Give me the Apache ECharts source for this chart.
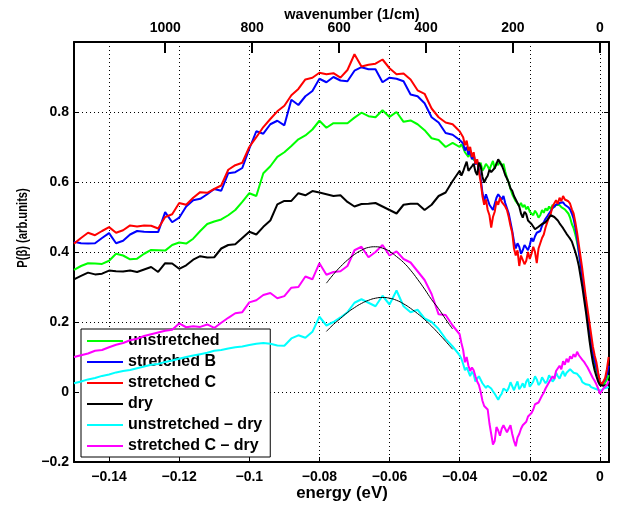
<!DOCTYPE html>
<html><head><meta charset="utf-8">
<script src="https://cdn.jsdelivr.net/npm/echarts@6/dist/echarts.min.js"></script>
<style>html,body{margin:0;padding:0;background:#fff}#c{width:625px;height:508px}</style>
</head><body><div id="c"></div>
<script>
// energy grid (eV): 0.002 steps on the left, 0.0005 steps in the dense region near 0
const energy = [-0.150,-0.148,-0.146,-0.144,-0.142,-0.140,-0.138,-0.136,-0.134,-0.132,-0.130,-0.128,-0.126,-0.124,-0.122,-0.120,-0.118,-0.116,-0.114,-0.112,-0.110,-0.108,-0.106,-0.104,-0.102,-0.100,-0.098,-0.096,-0.094,-0.092,-0.090,-0.088,-0.086,-0.084,-0.082,-0.080,-0.078,-0.076,-0.074,-0.072,-0.070,-0.068,-0.066,-0.064,-0.062,-0.060,-0.058,-0.056,-0.054,-0.052,-0.050,-0.048,-0.046,-0.044,-0.042,-0.040,
-0.0395,-0.039,-0.0385,-0.038,-0.0375,-0.037,-0.0365,-0.036,-0.0355,-0.035,-0.0345,-0.034,-0.0335,-0.033,-0.0325,-0.032,-0.0315,-0.031,-0.0305,-0.030,
-0.0295,-0.029,-0.0285,-0.028,-0.0275,-0.027,-0.0265,-0.026,-0.0255,-0.025,-0.0245,-0.024,-0.0235,-0.023,-0.0225,-0.022,-0.0215,-0.021,-0.0205,-0.020,
-0.0195,-0.019,-0.0185,-0.018,-0.0175,-0.017,-0.0165,-0.016,-0.0155,-0.015,-0.0145,-0.014,-0.0135,-0.013,-0.0125,-0.012,-0.0115,-0.011,-0.0105,-0.010,
-0.0095,-0.009,-0.0085,-0.008,-0.0075,-0.007,-0.0065,-0.006,-0.0055,-0.005,-0.0045,-0.004,-0.0035,-0.003,-0.0025,-0.002,-0.0015,-0.001,-0.0005,0.000,
0.0005,0.001,0.0015,0.002,0.0025];

const unstretched = [0.349,0.36,0.368,0.367,0.366,0.375,0.395,0.39,0.379,0.381,0.395,0.406,0.405,0.404,0.42,0.427,0.424,0.438,0.46,0.48,0.487,0.493,0.505,0.52,0.543,0.568,0.56,0.625,0.645,0.672,0.685,0.703,0.722,0.733,0.75,0.775,0.755,0.768,0.768,0.768,0.784,0.798,0.788,0.785,0.805,0.786,0.80,0.772,0.776,0.765,0.748,0.725,0.72,0.70,0.712,0.70,
0.708,0.698,0.685,0.69,0.672,0.684,0.668,0.672,0.66,0.665,0.645,0.655,0.632,0.64,0.652,0.645,0.635,0.648,0.66,0.638,
0.655,0.648,0.66,0.645,0.652,0.63,0.612,0.598,0.58,0.565,0.56,0.545,0.548,0.532,0.54,0.528,0.535,0.522,0.53,0.515,
0.52,0.505,0.518,0.51,0.498,0.505,0.52,0.512,0.525,0.518,0.53,0.522,0.535,0.528,0.535,0.53,0.534,0.528,0.527,0.522,
0.518,0.51,0.498,0.48,0.468,0.45,0.428,0.40,0.365,0.325,0.285,0.245,0.205,0.17,0.135,0.105,0.078,0.055,0.038,0.025,
0.02,0.02,0.027,0.035,0.048];

const stretchedB = [0.429,0.425,0.424,0.425,0.44,0.454,0.425,0.432,0.45,0.46,0.458,0.457,0.457,0.514,0.485,0.498,0.53,0.548,0.552,0.565,0.58,0.575,0.625,0.628,0.64,0.695,0.745,0.738,0.765,0.775,0.762,0.835,0.82,0.845,0.86,0.895,0.885,0.90,0.89,0.888,0.918,0.928,0.922,0.922,0.885,0.898,0.895,0.888,0.85,0.845,0.825,0.785,0.77,0.74,0.735,0.72,
0.725,0.71,0.69,0.70,0.678,0.69,0.665,0.68,0.65,0.66,0.635,0.61,0.57,0.545,0.565,0.55,0.535,0.54,0.52,0.525,
0.555,0.565,0.57,0.55,0.56,0.54,0.525,0.51,0.485,0.46,0.43,0.41,0.425,0.415,0.395,0.405,0.42,0.415,0.405,0.42,
0.44,0.43,0.445,0.455,0.45,0.46,0.475,0.478,0.495,0.502,0.51,0.515,0.525,0.522,0.535,0.53,0.54,0.535,0.542,0.535,
0.535,0.528,0.522,0.51,0.495,0.47,0.44,0.40,0.365,0.33,0.29,0.25,0.215,0.18,0.145,0.11,0.09,0.07,0.05,0.03,
0.022,0.025,0.035,0.05,0.075];

const stretchedC = [0.424,0.44,0.455,0.448,0.46,0.471,0.455,0.462,0.476,0.473,0.476,0.475,0.467,0.50,0.508,0.54,0.535,0.555,0.571,0.569,0.58,0.59,0.635,0.648,0.655,0.70,0.728,0.757,0.78,0.802,0.818,0.848,0.866,0.893,0.898,0.912,0.908,0.911,0.898,0.92,0.965,0.93,0.935,0.938,0.95,0.925,0.908,0.91,0.893,0.862,0.852,0.81,0.785,0.77,0.765,0.745,
0.74,0.728,0.705,0.718,0.69,0.70,0.672,0.685,0.652,0.665,0.63,0.60,0.56,0.535,0.55,0.52,0.505,0.47,0.50,0.515,
0.545,0.535,0.555,0.543,0.548,0.53,0.52,0.50,0.475,0.455,0.41,0.39,0.405,0.36,0.39,0.395,0.365,0.375,0.40,0.38,
0.395,0.415,0.40,0.368,0.41,0.425,0.44,0.45,0.47,0.485,0.50,0.51,0.53,0.528,0.548,0.538,0.555,0.545,0.56,0.55,
0.55,0.545,0.538,0.522,0.51,0.485,0.455,0.42,0.385,0.35,0.31,0.27,0.235,0.20,0.165,0.13,0.105,0.085,0.055,0.03,
0.02,0.02,0.04,0.065,0.10];

const dry = [0.322,0.332,0.341,0.336,0.338,0.347,0.345,0.344,0.347,0.343,0.35,0.357,0.343,0.368,0.367,0.352,0.362,0.378,0.388,0.384,0.385,0.41,0.42,0.422,0.44,0.458,0.45,0.472,0.49,0.536,0.546,0.546,0.568,0.562,0.574,0.57,0.565,0.56,0.562,0.543,0.53,0.537,0.538,0.54,0.53,0.52,0.51,0.535,0.538,0.538,0.52,0.535,0.56,0.57,0.603,0.632,
0.618,0.63,0.645,0.658,0.632,0.628,0.645,0.652,0.63,0.62,0.655,0.645,0.615,0.598,0.61,0.618,0.635,0.628,0.632,0.64,
0.652,0.665,0.655,0.648,0.635,0.62,0.61,0.598,0.582,0.575,0.56,0.55,0.54,0.53,0.51,0.498,0.515,0.508,0.49,0.49,
0.48,0.475,0.465,0.462,0.472,0.468,0.48,0.478,0.485,0.49,0.498,0.505,0.51,0.50,0.495,0.49,0.482,0.475,0.468,0.46,
0.452,0.445,0.438,0.43,0.415,0.40,0.382,0.36,0.33,0.30,0.265,0.23,0.19,0.15,0.115,0.085,0.062,0.045,0.03,0.02,
0.017,0.018,0.019,0.02,0.024];

const unstretchedMinusDry = [0.025,0.03,0.036,0.04,0.046,0.05,0.056,0.06,0.063,0.068,0.073,0.078,0.08,0.086,0.09,0.095,0.1,0.104,0.108,0.112,0.118,0.12,0.124,0.128,0.13,0.134,0.138,0.14,0.138,0.133,0.132,0.153,0.162,0.155,0.172,0.215,0.19,0.2,0.213,0.228,0.255,0.265,0.255,0.245,0.275,0.25,0.29,0.245,0.228,0.235,0.21,0.2,0.18,0.152,0.13,0.105,
0.095,0.08,0.062,0.07,0.058,0.045,0.058,0.05,0.03,0.038,0.045,0.04,0.025,0.028,0.012,0.018,0.022,0.01,0.002,-0.005,
-0.01,-0.022,-0.012,-0.005,0.01,0.008,0.002,0.012,0.028,0.025,0.005,0.018,0.03,0.008,0.015,0.025,0.012,0.03,0.038,0.015,
0.022,0.03,0.045,0.036,0.02,0.026,0.042,0.038,0.025,0.032,0.048,0.04,0.03,0.036,0.055,0.045,0.038,0.05,0.06,0.045,
0.055,0.052,0.065,0.062,0.055,0.06,0.052,0.05,0.04,0.028,0.03,0.022,0.018,0.02,0.014,0.016,0.01,0.012,0.006,0.008,
0.004,0.01,0.008,0.012,0.015];

const stretchedCMinusDry = [0.10,0.105,0.11,0.118,0.12,0.128,0.135,0.14,0.148,0.152,0.16,0.165,0.17,0.175,0.178,0.196,0.185,0.188,0.186,0.193,0.183,0.198,0.212,0.225,0.228,0.256,0.262,0.277,0.283,0.268,0.274,0.298,0.3,0.33,0.322,0.368,0.335,0.343,0.345,0.36,0.405,0.415,0.385,0.40,0.42,0.39,0.402,0.38,0.37,0.345,0.32,0.28,0.222,0.22,0.19,0.165,
0.14,0.12,0.085,0.10,0.075,0.06,0.07,0.062,0.045,0.03,0.02,0.0,-0.025,-0.04,-0.035,-0.05,-0.09,-0.12,-0.15,-0.14,
-0.10,-0.11,-0.125,-0.105,-0.095,-0.10,-0.115,-0.11,-0.095,-0.12,-0.14,-0.155,-0.13,-0.12,-0.105,-0.095,-0.10,-0.085,-0.07,-0.065,
-0.06,-0.05,-0.035,-0.04,-0.03,-0.02,-0.01,-0.002,0.01,0.015,0.028,0.025,0.045,0.038,0.06,0.055,0.075,0.065,0.088,0.078,
0.095,0.085,0.102,0.095,0.108,0.1,0.115,0.105,0.102,0.092,0.086,0.078,0.07,0.06,0.05,0.04,0.032,0.022,0.01,-0.005,
0.0,0.01,0.015,0.02,0.032];

const fitEnergy = [-0.078,-0.076,-0.074,-0.072,-0.070,-0.068,-0.066,-0.064,-0.062,-0.060,-0.058,-0.056,-0.054,-0.052,-0.050,-0.048,-0.046,-0.044,-0.042];
const fitStretchedC = [0.311,0.336,0.358,0.377,0.393,0.405,0.413,0.415,0.411,0.402,0.387,0.37,0.348,0.322,0.294,0.264,0.238,0.208,0.18];
const fitUnstretched = [0.173,0.193,0.21,0.227,0.241,0.253,0.262,0.268,0.27,0.268,0.262,0.252,0.239,0.224,0.207,0.188,0.167,0.145,0.122];

const energyTicks = [-0.14,-0.12,-0.10,-0.08,-0.06,-0.04,-0.02,0];
const valueTicks = [-0.2,0,0.2,0.4,0.6,0.8];
const wavenumberTicks = [1000,800,600,400,200,0];
const CM_PER_EV = 8065.54;

const names = ['unstretched','stretched B','stretched C','dry','unstretched \u2013 dry','stretched C \u2013 dry'];
const colors = ['#00ff00','#0000ff','#ff0000','#000000','#00ffff','#ff00ff'];
const seriesValues = [unstretched, stretchedB, stretchedC, dry, unstretchedMinusDry, stretchedCMinusDry];

const FONT = '"Liberation Sans", Arial, Helvetica, sans-serif';
function fmtNum(v){
  const r = Math.round(v*1000)/1000;
  if (Math.abs(r) < 1e-9) return '0';
  return (r < 0 ? '\u2212' : '') + String(Math.abs(r));
}

const series = seriesValues.map((vals, i) => ({
  name: names[i], type: 'line', xAxisIndex: 0, yAxisIndex: 0,
  data: energy.map((e, k) => [e, vals[k]]),
  symbol: 'none', showSymbol: false, animation: false,
  lineStyle: { color: colors[i], width: 2 }, itemStyle: { color: colors[i] },
  z: 2 + i
}));
[fitStretchedC, fitUnstretched].forEach((vals) => {
  series.push({
    type: 'line', xAxisIndex: 0, yAxisIndex: 0, symbol: 'none', animation: false, smooth: true,
    data: fitEnergy.map((e, k) => [e, vals[k]]),
    lineStyle: { color: '#000', width: 1 }, z: 10, silent: true
  });
});

const xMin = -0.15, xMax = 0.0026;
const chart = echarts.init(document.getElementById('c'), null, { renderer: 'canvas' });
chart.setOption({
  backgroundColor: '#fff',
  animation: false,
  textStyle: { fontFamily: FONT },
  grid: { left: 74, top: 42, width: 535, height: 420, containLabel: false },
  legend: {
    data: names, orient: 'vertical', left: 81, top: 329,
    icon: 'path://M0,0L36,0L36,2L0,2Z',
    itemWidth: 36, itemHeight: 14, itemGap: 5,
    padding: [4, 8, 3, 6],
    backgroundColor: '#fff', borderColor: '#000', borderWidth: 1,
    textStyle: { fontFamily: FONT, fontWeight: 'bold', fontSize: 16, color: '#000' },
    selectedMode: false
  },
  xAxis: [
    { type: 'value', position: 'bottom', min: xMin, max: xMax,
      axisLine: { show: true, onZero: false, lineStyle: { color: '#000', width: 2 } },
      axisTick: { show: true, inside: true, length: 5, customValues: energyTicks, lineStyle: { color: '#000', width: 1 } },
      axisLabel: { customValues: energyTicks, formatter: fmtNum, margin: 8, color: '#000', fontFamily: FONT, fontWeight: 'bold', fontSize: 14 },
      splitLine: { show: true, lineStyle: { color: '#000', width: 1, type: [1, 3] } }
    },
    { type: 'value', position: 'top', min: xMin, max: xMax,
      axisLine: { show: true, onZero: false, lineStyle: { color: '#000', width: 2 } },
      axisTick: { show: true, inside: true, length: 11, customValues: wavenumberTicks.map(w => -w / CM_PER_EV), lineStyle: { color: '#000', width: 2 } },
      axisLabel: { customValues: wavenumberTicks.map(w => -w / CM_PER_EV), formatter: v => String(Math.abs(Math.round(-v * CM_PER_EV))), margin: 7, color: '#000', fontFamily: FONT, fontWeight: 'bold', fontSize: 14 },
      splitLine: { show: false }
    }
  ],
  yAxis: [
    { type: 'value', position: 'left', min: -0.2, max: 1.0, interval: 0.2,
      axisLine: { show: true, onZero: false, lineStyle: { color: '#000', width: 2 } },
      axisTick: { show: true, inside: true, length: 5, customValues: valueTicks, lineStyle: { color: '#000', width: 1 } },
      axisLabel: { customValues: valueTicks, formatter: fmtNum, margin: 5, color: '#000', fontFamily: FONT, fontWeight: 'bold', fontSize: 14 },
      splitLine: { show: true, lineStyle: { color: '#000', width: 1, type: [1, 3] } }
    },
    { type: 'value', position: 'right', min: -0.2, max: 1.0, interval: 0.2,
      axisLine: { show: true, onZero: false, lineStyle: { color: '#000', width: 2 } },
      axisTick: { show: true, inside: true, length: 5, customValues: valueTicks, lineStyle: { color: '#000', width: 1 } },
      axisLabel: { show: false }, splitLine: { show: false }
    }
  ],
  graphic: [
    { type: 'text', x: 342, y: 494, scaleX: 1.05, style: { text: 'energy (eV)', font: 'bold 16px ' + FONT, fill: '#000', align: 'center', verticalAlign: 'middle' } },
    { type: 'text', x: 352, y: 15, style: { text: 'wavenumber (1/cm)', font: 'bold 14.5px ' + FONT, fill: '#000', align: 'center', verticalAlign: 'middle' } },
    { type: 'text', x: 23, y: 228, rotation: Math.PI / 2, scaleX: 0.8, style: { text: 'P(\u03b2) (arb.units)', font: 'bold 14px ' + FONT, fill: '#000', align: 'center', verticalAlign: 'middle' } }
  ],
  series: series
});
</script></body></html>
